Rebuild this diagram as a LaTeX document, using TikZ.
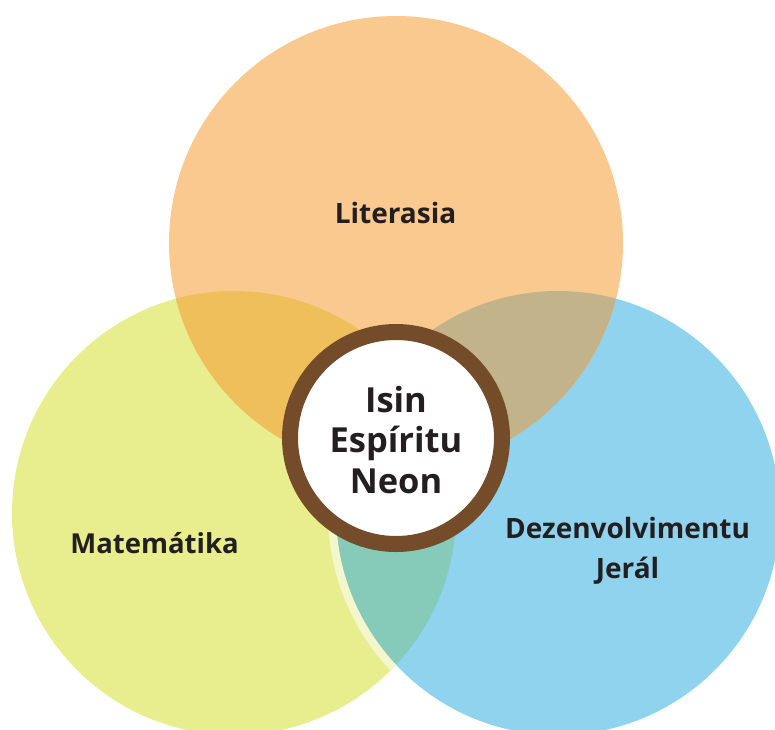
\documentclass[tikz,border=0pt]{standalone}
\usepackage{fontspec}
\setmainfont{Open Sans}
\definecolor{cOrange}{HTML}{F9C98F}
\definecolor{cYellow}{HTML}{E8ED8E}
\definecolor{cBlue}{HTML}{8FD3EE}
\definecolor{cOY}{HTML}{EFBF5B}
\definecolor{cOB}{HTML}{C3B38A}
\definecolor{cYB}{HTML}{86CBB9}
\definecolor{cBand}{HTML}{F4F6CB}
\definecolor{cRing}{HTML}{754C29}
\definecolor{cText}{HTML}{231F20}
\begin{document}
\begin{tikzpicture}[x=1pt,y=-1pt,
  lbl/.style={text=cText, font=\bfseries\fontsize{28}{40}\selectfont, align=center, inner sep=0pt, anchor=base},
  corelbl/.style={text=cText, font=\bfseries\fontsize{34.5}{40.5}\selectfont, align=center, inner sep=0pt, anchor=base},
  corering/.style={circle, fill=white, draw=cRing, line width=16pt, minimum size=212pt, inner sep=0pt}]
\useasboundingbox (0,0) rectangle (775,729);
% base circles
\fill[cYellow] (234,513) circle (222pt);
\fill[cBlue] (558,513) circle (222pt);
\fill[cOrange] (396,243) circle (227pt);
% overlaps
\begin{scope}
  \clip (396,243) circle (227pt);
  \fill[cOY] (234,513) circle (222pt);
  \fill[cOB] (558,513) circle (222pt);
\end{scope}
\begin{scope}
  \clip (234,513) circle (222pt);
  \fill[cYB] (558,513) circle (222pt);
  \draw[cBand, line width=8pt] (558,513) circle (226pt);
\end{scope}
% centre
\node[corering] (core) at (396,438) {};
\node[corelbl] (coretext) at (396,493) {Isin\\Espíritu\\Neon};
\node[lbl] (lit) at (395.5,223) {Literasia};
\node[lbl, font=\bfseries\fontsize{27.5}{40}\selectfont] (mat) at (154.5,553) {Matemátika};
\node[lbl] (dez) at (627.5,578) {Dezenvolvimentu\\Jerál};
\end{tikzpicture}
\end{document}
